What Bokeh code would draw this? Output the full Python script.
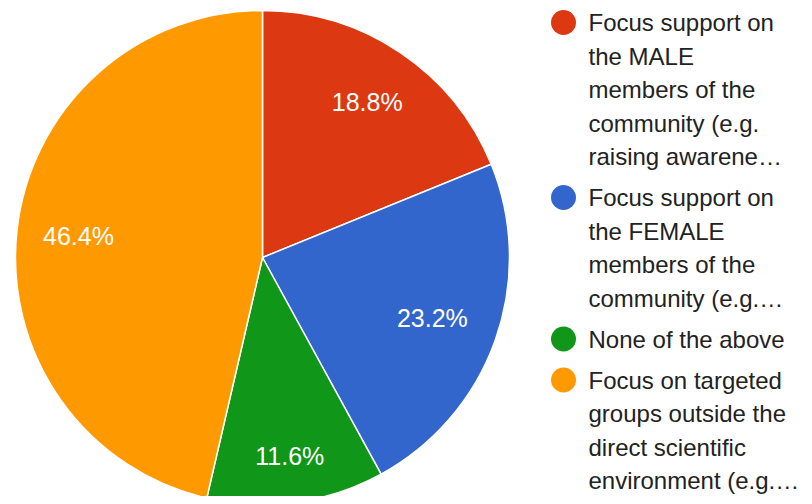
import numpy as np
from bokeh.plotting import figure
from bokeh.models import Range1d, ColumnDataSource
from bokeh.core.properties import value
from bokeh.embed import file_html
from bokeh.resources import INLINE

# ---- data ----
categories = [
    "Focus support on the MALE members of the community (e.g. raising awareness)",
    "Focus support on the FEMALE members of the community (e.g.)",
    "None of the above",
    "Focus on targeted groups outside the direct scientific environment (e.g.)",
]
counts = [13, 16, 8, 32]
legend_lines = [
    ["Focus support on", "the MALE", "members of the", "community (e.g.", "raising awarene\u2026"],
    ["Focus support on", "the FEMALE", "members of the", "community (e.g.\u2026"],
    ["None of the above"],
    ["Focus on targeted", "groups outside the", "direct scientific", "environment (e.g.\u2026"],
]
colors = ["#dc3912", "#3366cc", "#109618", "#ff9900"]

# ---- layout / style ----
W, H = 804, 496
CX, CY, R = 262, -257, 247
LABEL_FRAC = [0.76, 0.73, 0.81, 0.75]
FONT = "Liberation Sans"
FS = "25px"
LEG_FS = "24px"

p = figure(width=W, height=H, output_backend="svg", toolbar_location=None,
           x_range=Range1d(0, W), y_range=Range1d(-H, 0),
           min_border=0, outline_line_color=None)
p.axis.visible = False
p.grid.visible = False
p.background_fill_color = "white"
p.border_fill_color = "white"

vals = np.array(counts, dtype=float)
frac = vals / vals.sum()
cum = np.concatenate([[0], np.cumsum(frac)])
start = np.pi / 2 - 2 * np.pi * cum[:-1]
end = np.pi / 2 - 2 * np.pi * cum[1:]
mid = (start + end) / 2

src = ColumnDataSource(dict(x=[CX] * 4, y=[CY] * 4, start=start, end=end, color=colors))
p.wedge(x="x", y="y", radius=R, start_angle="start", end_angle="end",
        direction="clock", fill_color="color", line_color="white", line_width=1.5,
        source=src)

lab_r = np.array(LABEL_FRAC) * R
lx = CX + lab_r * np.cos(mid)
ly = CY + lab_r * np.sin(mid)
labels = ["%.1f%%" % (f * 100) for f in frac]
p.text(x=lx, y=ly, text=labels, text_color="white", text_align="center",
       text_baseline="middle", text_font=value(FONT), text_font_size=FS)

# ---- legend ----
LEG_X_DOT, LEG_X_TXT = 563, 588
TOP, STEP, GAP = 22, 33.5, 41
y = TOP
dot_x, dot_y, dot_c = [], [], []
tx, ty, tt = [], [], []
for lines, c in zip(legend_lines, colors):
    dot_x.append(LEG_X_DOT); dot_y.append(-y); dot_c.append(c)
    for i, ln in enumerate(lines):
        tx.append(LEG_X_TXT); ty.append(-(y + i * STEP)); tt.append(ln)
    y += (len(lines) - 1) * STEP + GAP
p.scatter(x=dot_x, y=dot_y, size=25, fill_color=dot_c, line_color=None)
p.text(x=tx, y=ty, text=tt, text_color="#222222", text_align="left",
       text_baseline="middle", text_font=value(FONT), text_font_size=LEG_FS)

open("out.html", "w").write(file_html(p, INLINE))
